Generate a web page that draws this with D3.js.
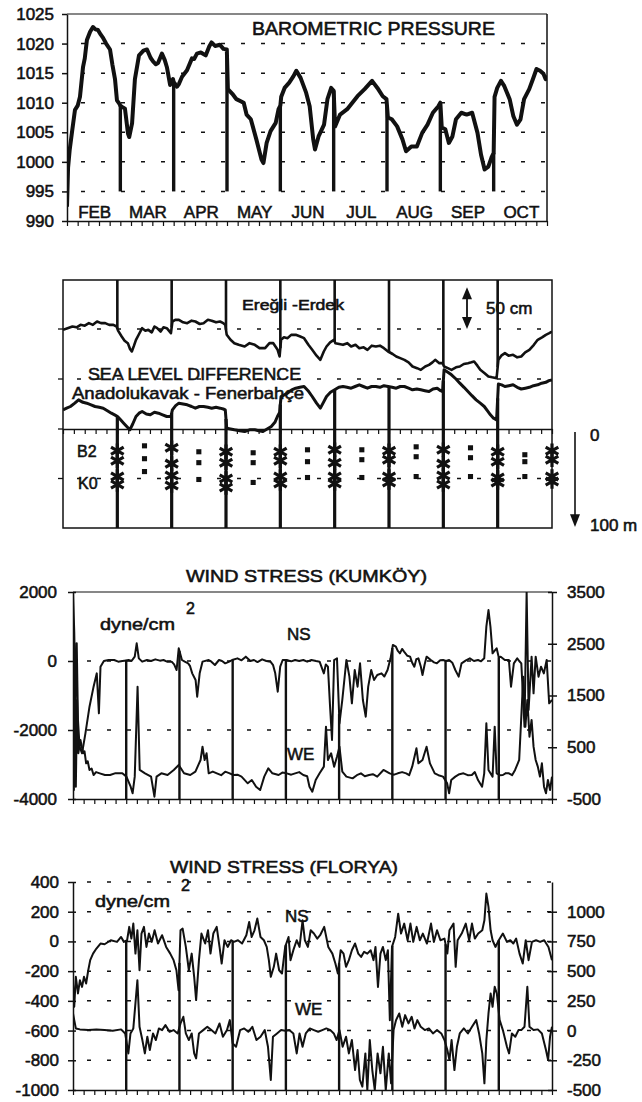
<!DOCTYPE html>
<html>
<head>
<meta charset="utf-8">
<script src="https://cdn.jsdelivr.net/npm/d3@7"></script>
<style>
  body { margin: 0; background: #fff; }
  svg text { font-family: "Liberation Sans", Arial, sans-serif; fill: #111; stroke: #111; stroke-width: 0.55px; }
</style>
</head>
<body>
<svg id="fig" width="642" height="1102"></svg>
<script>
// ---- data (days counted from 1 Feb, 30 per month) ----
const months = ['FEB', 'MAR', 'APR', 'MAY', 'JUN', 'JUL', 'AUG', 'SEP', 'OCT'];
const monthEnds = [30, 60, 90, 120, 150, 180, 210, 240];
const minorTickDays = d3.range(0, 271, 6);

const pressureTicks = [990, 995, 1000, 1005, 1010, 1015, 1020, 1025];
const pressureGrid = [995, 1000, 1005, 1010, 1015, 1020];
const pressure = [
  [0, 992.4], [0.6, 999], [1.5, 1002], [2.8, 1005], [4.5, 1008.8], [6, 1009.5], [7.3, 1011], [9, 1016],
  [10, 1017.5], [11.2, 1020.6], [13, 1022], [14.6, 1022.8], [16, 1022.4], [17.4, 1022.3], [19, 1021.5],
  [20.2, 1021], [22, 1020], [24.2, 1019], [25.5, 1016.5], [27, 1014], [28.1, 1010.4], [29.5, 1009.8],
  [30, 1009.5], [31, 1009.3], [32.6, 1009], [34.3, 1004.8], [35, 1004.2], [36.6, 1006.5], [38.2, 1014],
  [40.5, 1018], [43, 1018.8], [45, 1019], [47, 1017.6], [48.4, 1017], [50, 1016.5], [51.2, 1016.7],
  [53.4, 1018.3], [55, 1017.2], [56.2, 1016], [58, 1013], [59.6, 1014], [60, 1013.5], [61.9, 1012.7],
  [63, 1013.2], [64.7, 1014.4], [67.5, 1015.5], [70.3, 1017.5], [71.5, 1017.4], [73.1, 1018.3],
  [75.3, 1018.5], [78, 1018], [80, 1019.5], [81.3, 1020.2], [83.3, 1019.6], [86, 1019.8], [88, 1019.1],
  [89.9, 1019], [90.5, 1012.3], [93, 1011.5], [95.3, 1010.6], [99.4, 1010], [101, 1008], [103.4, 1007.2],
  [106.5, 1003.8], [109.4, 1000.4], [110.5, 999.8], [112.3, 1003.2], [114.5, 1005.2], [117.4, 1006.6],
  [119, 1008.9], [120, 1009.5], [120.5, 1011], [122.4, 1012.5], [125, 1013.4], [127.4, 1014.5],
  [129, 1015.4], [131.4, 1014.2], [134.5, 1011.7], [136.5, 1009.4], [138.5, 1003.8], [139.5, 1002.1],
  [141.5, 1004.3], [144.6, 1006.3], [146.5, 1010.6], [148.6, 1012.5], [150, 1012], [150.8, 1006],
  [153.6, 1008], [157.6, 1008.9], [160.5, 1010], [163.4, 1011.1], [167.4, 1012.3], [171.6, 1013.7],
  [174.6, 1012.5], [177.6, 1011.1], [179.7, 1010.6], [180.5, 1007.5], [182.7, 1007.2], [185.7, 1006],
  [188.7, 1003.8], [190.7, 1001.8], [193.7, 1002.6], [196.8, 1002.6], [199.8, 1004.9], [202.8, 1006.3],
  [205.8, 1008.3], [208.9, 1009.4], [210, 1010], [210.8, 1005.8], [212.8, 1005.5], [214.8, 1003.2],
  [216.8, 1004.3], [218.8, 1007.2], [221.8, 1008.3], [224.8, 1008], [227.9, 1008.3], [230.9, 1004.9],
  [232.9, 1001.2], [234.9, 998.7], [237, 999.2], [239, 1000.9], [240, 1001.5], [240.5, 1011],
  [242, 1012.5], [244.1, 1013.7], [246, 1012.8], [249, 1010.6], [251.1, 1007.7], [253.1, 1006.3],
  [255.1, 1007.2], [257.1, 1010.6], [260, 1012.3], [262.1, 1014], [264.1, 1015.7], [266.1, 1015.4],
  [268, 1014.9], [269.2, 1014], [270, 1014.6]
];

// sea level difference, cm (curves offset for display)
const seaGrid = [60, 120];
const seaErdek = [
  [0, 119], [2.5, 121], [5.2, 123], [7.5, 122], [9.7, 125], [12, 124], [14.3, 127], [16.5, 125], [18.8, 129],
  [21, 127], [23.3, 127], [25.5, 125], [27.8, 125], [29.6, 123], [30.4, 118], [32.4, 111], [34, 106],
  [35.8, 103], [37, 96], [38, 93], [39.2, 100], [40.3, 107], [42, 114], [43.7, 121], [45.5, 118], [47.1, 119],
  [49, 116], [50.5, 123], [52, 121], [53.9, 117], [55.5, 122], [57.3, 121], [59.6, 115], [60.4, 129],
  [62, 131], [64, 131], [66.3, 128], [68.6, 127], [71, 130], [73.1, 129], [75.5, 126], [77.6, 127], [80, 131],
  [82.1, 130], [84.5, 128], [86.7, 129], [88.5, 127], [89.6, 125], [90.4, 113], [92.5, 107], [94.6, 103],
  [97, 101], [100.3, 99], [103, 103], [105.9, 101], [108.5, 97], [111.6, 97], [114, 103], [116.1, 103],
  [118.5, 95], [119.6, 87], [120.4, 107], [122, 110], [124, 109], [126, 113], [128.5, 113], [131, 111],
  [133.1, 109], [135.5, 101], [137.6, 95], [140, 88], [142.1, 83], [144, 93], [145.5, 99], [147.5, 104],
  [149.6, 107], [150.4, 103], [152.5, 102], [154.6, 101], [157, 103], [159.1, 99], [161.5, 101], [163.6, 97],
  [166, 98], [168.1, 95], [170.5, 100], [172.7, 99], [175, 100], [177.2, 97], [179.5, 93], [182, 90],
  [184, 87], [186.2, 85], [188.5, 83], [190.8, 80], [193, 75], [195.5, 73], [197.6, 71], [200, 75],
  [202.1, 77], [204, 80], [205.5, 83], [207.8, 79], [209.6, 79], [210.4, 75], [212.5, 73], [214.5, 71],
  [217, 74], [219.1, 75], [221.3, 78], [223.6, 79], [225.5, 80], [227, 81], [228.8, 76], [230.4, 71],
  [232.8, 67], [234.9, 63], [237, 62], [239.4, 61], [240.4, 83], [242, 88], [244, 91], [246, 88],
  [248.5, 89], [250.8, 86], [253, 87], [255.2, 92], [257.5, 95], [260, 101], [262.1, 107], [264.5, 110],
  [266.6, 113], [268.5, 115], [270, 117]
];
const seaAnadolu = [
  [0, 23], [2, 25], [4.1, 27], [6.5, 31], [8.6, 35], [11, 32], [13.1, 31], [15.5, 29], [17.7, 27], [20, 26],
  [22.2, 25], [24.5, 22], [26.7, 19], [28.5, 17], [30.1, 15], [31.8, 11], [33.5, 7], [35.2, 3], [36.9, -1],
  [38.5, 6], [40.3, 15], [42, 19], [43.7, 21], [46, 18], [48.2, 17], [50.5, 20], [52.7, 19], [55, 17],
  [57.3, 15], [59.6, 15], [60.4, 23], [62.2, 28], [64, 31], [66.3, 30], [68.6, 29], [71, 27], [73.1, 25],
  [75.3, 27], [77.6, 27], [80, 26], [82.1, 25], [84.5, 26], [86.7, 25], [88.5, 24], [89.6, 23], [90.4, 1],
  [92.5, 0], [94.6, -1], [97.5, -2], [100.3, -3], [103, -1], [105.9, -1], [108, -2], [110.4, -3], [112.7, 0],
  [115, 3], [117, 8], [118.4, 15], [119.6, 20], [120.4, 39], [122.2, 41], [124, 43], [126.3, 47],
  [128.5, 49], [130.8, 50], [133.1, 51], [135.3, 46], [137.6, 39], [140, 31], [142.1, 25], [143.8, 32],
  [145.5, 39], [147.7, 44], [150, 47], [152.3, 50], [154.6, 51], [156.8, 50], [159.1, 49], [161.3, 51],
  [163.6, 53], [165.8, 51], [168.1, 49], [170.4, 51], [172.7, 51], [175, 50], [177.2, 52], [179.5, 51],
  [181.7, 50], [184, 49], [186.2, 51], [188.5, 51], [190.8, 49], [193, 47], [195.3, 48], [197.6, 47],
  [199.8, 46], [202.1, 45], [204.3, 48], [206.6, 49], [208.5, 46], [209.6, 45], [210.4, 71], [212.5, 68],
  [214.5, 65], [217, 60], [219.1, 55], [221.4, 50], [223.6, 45], [225.8, 40], [228.1, 35], [230.4, 31],
  [232.6, 27], [234.3, 22], [236, 17], [237.7, 13], [239.4, 11], [240.4, 54], [242.2, 53], [244, 51],
  [246.2, 52], [248.5, 53], [250.8, 50], [253, 48], [255.3, 49], [257.5, 50], [259.8, 52], [262.1, 53],
  [264.3, 55], [266.6, 56], [268.3, 58], [270, 59]
];

// interface depths (m) at month ends (stars) and mid-month (squares)
const starDays = [30, 60, 90, 120, 150, 180, 210, 240, 270];
const b2StarUpper = [22, 19, 23, 23, 21, 22, 21, 23, 22];
const b2StarLower = [32, 35, 34, 32, 34, 31, 35, 33, 31];
const k0StarUpper = [48, 47, 50, 48, 48, 48, 47, 49, 48];
const k0StarLower = [56, 57, 59, 55, 55, 54, 56, 54, 53];
const midDays = [45, 75, 105, 135, 165, 195, 225, 255];
const b2MidUpper = [17, 23, 24, 21, 21, 18, 19, 26];
const b2MidLower = [30, 34, 34, 33, 31, 28, 29, 33];
const k0Mid = [43, 51, 54, 49, 49, 48, 48, 48];

// wind stress Kumkoy, dyne/cm2 : NS on left axis, WE on right axis
const kumkoyLeftTicks = [2000, 0, -2000, -4000];
const kumkoyRightTicks = [3500, 2500, 1500, 500, -500];
const kumkoyGrid = [0, -2000];
const kumkoyNS = [
  [0, 2000], [0.7, 850], [1.4, -1130], [2.1, 512], [2.8, -1710], [3.7, -2483], [5.1, -2676], [7, -2097],
  [9.3, -1324], [11.6, -744], [13.4, -358], [14.6, -1517], [15.5, -164], [17.4, 0], [20, 29], [23.2, 29],
  [25.5, -19], [27.8, 0], [29, 10], [31.3, 29], [33, 0], [34.8, 126], [35.9, 512], [37.1, 77], [39, -19],
  [41.7, 29], [44, 0], [46.4, 48], [49, 10], [51, 29], [53, -19], [55.6, -19], [57, -100], [58.4, -261],
  [59.6, 367], [61.4, 29], [63, -19], [64.9, -68], [66, -150], [67.2, -358], [69.1, -551], [70, -1034],
  [71.4, -358], [73, -19], [76.5, 29], [78, -19], [80, -116], [82.3, 29], [84, 0], [85.8, -68], [88.1, -19],
  [89.7, 29], [92.7, 77], [95, 20], [97.4, 126], [100, 0], [102, 29], [104, -30], [106.6, 48], [109, 0],
  [111.3, -19], [112.8, -120], [114, -358], [115.4, -889], [116.8, -164], [118.2, 29], [120.5, 29],
  [123, -10], [125.2, 29], [127.5, 0], [129.8, 29], [132, -20], [134.4, 29], [137, 0], [139, -19],
  [141.4, -358], [142.5, -100], [143.7, -164], [144.9, -1324], [146, -2290], [147.2, 29], [148.8, 77],
  [150.2, -1807], [151.8, -1130], [154.1, 29], [155.8, -454], [157.2, -1227], [158.8, -261], [160.4, -744],
  [161.8, -68], [163.4, -1130], [165, -1614], [166.4, -744], [168.1, -261], [169.7, -551], [171.5, -406],
  [173.9, -358], [175.5, -450], [177.3, -261], [179, 77], [180.3, 464], [182, 415], [183, 300], [184.3, 222],
  [185.5, 350], [186.6, 270], [188.5, 150], [190, 126], [191.2, -50], [192.4, -164], [193.5, 50], [194.7, 77],
  [196, -150], [197, -406], [198.2, -100], [199.3, 126], [201.7, 29], [203.5, -40], [205.1, -68], [207, 20],
  [208.6, 29], [210.3, 0], [212, 29], [213.8, -50], [215.5, -261], [217.4, -454], [219, -68], [221.5, 20],
  [223.7, 77], [226, 0], [228.3, 29], [230, -10], [231.8, 77], [233, 995], [234.2, 1478], [235.3, 995],
  [236.5, 222], [237.7, 300], [238.8, 367], [240, 100], [241.1, 126], [243.4, 29], [245.7, 29], [246.9, -744],
  [248.5, -68], [250.4, 77], [251.5, 0], [252.7, -68], [254.5, -1903], [255.7, 2000], [256.8, -1420],
  [258.5, 126], [259.6, -937], [260.8, 126], [262.4, -454], [263.8, -164], [265.4, -358], [267, 29],
  [268.4, -1227], [270, -1130]
];
const kumkoyWE = [
  [0, 2186], [0.5, -326], [0.9, 2508], [1.6, -262], [2.3, 1413], [3, 383], [4.2, 640], [5, 500], [5.8, 383],
  [6.5, 420], [7.4, 189], [8.3, 230], [9.3, 61], [10.5, 90], [11.6, -36], [13, 20], [15.1, -4], [18, -36],
  [20.9, -36], [24, 0], [27.8, -4], [30.1, -68], [32.5, -262], [33.6, -390], [34.8, -68], [36.4, 1671],
  [37.6, 61], [40.6, -4], [44, -68], [45.9, -455], [47.1, -68], [49.8, -4], [53.3, -36], [56.8, 61],
  [59.6, 157], [62.6, -4], [66.1, -36], [69, 30], [71.9, 254], [73, 511], [74.2, 254], [75.3, 383],
  [76.5, -4], [78.8, 30], [81.1, -4], [83.5, -40], [85.8, 28], [88, 0], [90.4, -36], [92.7, -30], [95, -68],
  [98.5, -197], [100.8, -133], [103.2, -262], [105.5, -326], [107.8, -68], [110.1, 93], [112.4, -4],
  [115.9, -36], [118, 10], [120.5, -4], [123, -30], [125.2, -4], [127.5, 20], [129.8, -36], [132, -60],
  [133.3, -262], [134.9, -358], [136.8, -133], [139, -4], [141.4, 125], [142.6, 898], [143.7, 254],
  [145.5, 383], [147.2, 125], [148.8, 318], [150.2, 511], [151.8, 28], [154.1, -68], [157.6, -101],
  [160, -40], [162.3, -4], [164.5, -60], [166.9, -36], [169, -20], [171.5, -68], [175, 61], [178.5, -4],
  [181, -30], [183.1, -4], [185.5, 20], [187.8, -4], [189.5, -40], [191.2, 125], [193.6, 479], [194.7, 189],
  [197, 254], [199.3, 511], [201.2, 189], [203.9, -4], [206, -40], [208.6, -68], [210.9, -197], [212, -390],
  [213.2, -133], [215.5, -68], [217.8, -20], [220.1, -4], [222.5, -40], [224.8, -36], [226.5, 20],
  [228.3, -133], [230.6, -262], [231.8, -4], [233, 962], [234.2, 61], [236.5, -68], [237.7, 898],
  [238.8, -4], [240.5, -40], [242.3, -36], [244, 0], [245.7, -4], [247.5, -40], [249.2, 61], [251.5, 254],
  [252.7, 1091], [253.8, 1864], [255, 898], [256.1, 1413], [257.3, 705], [258.5, 1027], [259.6, 511],
  [260.8, 254], [262, 125], [263.2, -68], [264.3, 189], [265.5, -262], [266.6, -390], [267.7, -133],
  [268.9, -326], [270, -68]
];

// wind stress Florya
const floryaLeftTicks = [400, 200, 0, -200, -400, -600, -800, -1000];
const floryaRightTicks = [1000, 750, 500, 250, 0, -250, -500];
const floryaGrid = [400, 200, 0, -200, -400, -600, -800];
const floryaNS = [
  [0, -283], [0.7, -440], [1.6, -238], [2.8, -350], [3.9, -261], [5.1, -306], [6.2, -238], [7.4, -283],
  [8.6, -194], [9.7, -126], [11.3, -82], [13.2, -48], [15.5, -14], [17.8, -19], [21.3, 8], [24.8, -3],
  [27.1, 30], [28.7, -3], [30.5, 8], [31.7, 98], [32.9, 19], [34, 120], [35.2, -82], [36.3, 75],
  [37.5, -194], [38.6, 53], [40, 98], [41.4, -37], [42.8, 53], [44.4, -3], [46, 75], [47.9, -14], [50.2, 42],
  [52.5, -37], [54.8, -82], [56.7, -126], [58.3, -194], [59.5, -328], [60.6, 75], [61.8, 86], [63.6, -37],
  [65.3, -194], [66.9, -82], [68.3, -238], [69.4, -395], [71, -126], [72.4, 53], [74.5, -14], [76.1, 75],
  [77.5, -82], [79.1, 53], [81, 98], [82.6, -37], [83.8, -149], [85.4, 8], [87.2, -37], [89.1, 8],
  [90.7, -3], [93, 8], [95.3, -14], [97.7, 42], [99.3, 131], [100.7, 30], [102.3, 75], [103.9, 154],
  [105.7, 30], [107.6, 8], [109.2, -37], [110.4, -126], [111.5, -238], [113.2, -171], [114.5, -82],
  [116.2, -194], [117.8, -216], [119.6, -37], [121.5, 30], [122.6, -126], [124.2, -59], [126.1, 8],
  [127.7, -37], [129.4, 142], [130.7, 8], [132.4, -37], [134, 75], [135.8, 53], [137.7, 19], [139.3, 42],
  [141.6, 98], [143.9, -37], [146.2, -82], [147.9, -149], [149.3, -216], [150.9, -59], [152.5, -82],
  [153.9, -171], [155.5, -126], [157.2, -59], [159, -14], [160.8, -82], [162.4, -104], [164.1, -70],
  [165.9, -82], [167.8, -59], [169.4, -126], [170.5, -37], [171.9, -306], [173.3, -82], [174.7, -37],
  [176.3, -126], [177.5, -59], [178.6, -530], [179.8, -37], [181.6, 30], [183.3, 187], [184.9, 53],
  [186.7, 120], [188.6, 8], [190.2, 120], [191.8, -3], [193.7, 98], [195.5, 8], [197.2, 53], [199.5, -14],
  [201.8, 120], [203.4, -3], [205.2, 75], [207.1, 8], [209.4, 19], [211, -82], [212.2, 75], [214.5, 120],
  [215.7, -171], [216.8, 8], [219.1, 53], [221.4, 120], [223.3, 8], [224.9, 120], [226.5, 19], [228.4, 53],
  [230.7, 75], [231.9, 142], [233, 322], [234.2, 232], [235.4, 75], [236.5, 8], [238.1, -37], [240, 8],
  [242.3, 53], [244.6, -3], [246.5, 8], [248.2, -14], [249.8, 19], [251.7, -82], [253.5, -149], [255.2, 8],
  [256.8, -126], [258.7, -3], [261, 8], [263.3, -3], [265.6, 8], [268, -37], [270, -126]
];
const floryaWE = [
  [0, 144], [0.7, 88], [1.6, 18], [3.9, 10], [8.6, 4], [13.2, 10], [17.8, 4], [22.4, -2], [27.1, 10],
  [29.4, -24], [31.2, -192], [32.4, -24], [34, 18], [36.3, 424], [37.5, 32], [39.1, -80], [40.5, -192],
  [41.9, -52], [43.3, -164], [45.1, -24], [46.7, -80], [48.4, 18], [50.2, 4], [52.1, 46], [54.4, -10],
  [56.7, 4], [59, -24], [60.6, 60], [62.2, 116], [63.6, -24], [65.3, -80], [66.9, -24], [68.3, -192],
  [69.4, -234], [71, -24], [73.4, 4], [75.7, 32], [78, 4], [80.3, -24], [82.6, 60], [84.5, -52], [86.8, 4],
  [88.4, 88], [90, -108], [91.9, -136], [94.2, 4], [96.5, 18], [98.8, -10], [101.1, 32], [103.4, -80],
  [105.7, -52], [108.1, 4], [109.9, -136], [111.5, -416], [112.7, -52], [115, -24], [117.3, 4], [119.6, -2],
  [121.9, 4], [124.2, -24], [126.1, -192], [127.7, -24], [129.4, -136], [131.2, -24], [133.5, 18],
  [135.8, 4], [138.2, -10], [140.5, 4], [142.8, 18], [145.1, 4], [147, -24], [148.6, -80], [150.2, 4],
  [152, -136], [153.9, -52], [155.5, -192], [157.2, -80], [159, -332], [160.4, -164], [161.7, -416],
  [163.1, -472], [164.8, -192], [165.9, -500], [167.3, -80], [168.7, -332], [170.1, -500], [171.7, -192],
  [173.3, -360], [174.7, -136], [176.3, -500], [178, -192], [179.3, -444], [180.7, 4], [182.1, 88],
  [183.9, 144], [185.6, 32], [187.2, 130], [189.1, 60], [190.9, 116], [192.5, 18], [194.1, 88], [196, 32],
  [198.3, 4], [200.6, 18], [202.9, -24], [205.2, 4], [207.6, -24], [209.4, -80], [211, -164], [212.2, -248],
  [213.4, -80], [215, -332], [216.4, -136], [218, -24], [220.3, 18], [222.6, -24], [224.9, 32], [227.3, 88],
  [228.9, -24], [230.7, -192], [231.9, -444], [233, -80], [234.2, 144], [235.4, 312], [236.5, 200],
  [237.7, 368], [238.9, 312], [240.5, 88], [242.3, 4], [244.6, -136], [245.8, -192], [247.4, -24],
  [249.3, -52], [251.1, 4], [252.7, 4], [254.5, 32], [256.1, 368], [257.3, 32], [259.6, 4], [262, 10],
  [264.3, -24], [266.6, -164], [267.8, -248], [268.9, -52], [270, 32]
];

// ---- drawing ----
const FONT = '"Liberation Sans", Arial, sans-serif';
const INK = '#111';
const plainNumber = d => String(d); // keeps ASCII hyphen, no thousands comma
const svg = d3.select('#fig');
const defs = svg.append('defs');
let clipCount = 0;

function addClip(x0, y0, x1, y1) {
  const id = 'clip' + (clipCount++);
  defs.append('clipPath').attr('id', id).append('rect')
    .attr('x', x0).attr('y', y0).attr('width', x1 - x0).attr('height', y1 - y0);
  return 'url(#' + id + ')';
}

function valueAt(series, day) {
  const i = d3.bisector(d => d[0]).left(series, day);
  if (i <= 0) return series[0][1];
  if (i >= series.length) return series[series.length - 1][1];
  const a = series[i - 1], b = series[i];
  return a[1] + (b[1] - a[1]) * (day - a[0]) / (b[0] - a[0]);
}

function styleAxis(g, size) {
  g.attr('font-family', FONT).attr('font-size', size);
  g.selectAll('path, line').attr('stroke', INK).attr('stroke-width', 1.5);
  g.selectAll('text').attr('fill', INK);
}

function dashedLine(g, x0, x1, y) {
  g.append('line')
    .attr('x1', x0 + 14).attr('x2', x1).attr('y1', y).attr('y2', y)
    .attr('stroke', INK).attr('stroke-width', 1.5).attr('stroke-dasharray', '4 16');
}

function minorTicks(g, x, y) {
  const axis = d3.axisBottom(x).tickValues(minorTickDays).tickFormat('').tickSize(5).tickSizeOuter(0);
  const ag = g.append('g').attr('transform', `translate(0,${y})`).call(axis);
  styleAxis(ag, 10);
  ag.selectAll('.tick line').attr('stroke-width', 1.2);
  return ag;
}

function drawSeries(g, series, x, y, width, clip) {
  g.append('path')
    .datum(series)
    .attr('clip-path', clip)
    .attr('fill', 'none')
    .attr('stroke', INK)
    .attr('stroke-width', width)
    .attr('stroke-linejoin', 'round')
    .attr('d', d3.line().x(d => x(d[0])).y(d => y(d[1])));
}

function label(g, text, x, y, size, anchor, length) {
  const t = g.append('text').attr('x', x).attr('y', y).attr('font-size', size)
    .attr('text-anchor', anchor || 'start').text(text);
  if (length) t.attr('textLength', length).attr('lengthAdjust', 'spacingAndGlyphs');
  return t;
}

// panel 1: barometric pressure
(function () {
  const x0 = 67, x1 = 547, top = 14, bottom = 221;
  const g = svg.append('g');
  const x = d3.scaleLinear().domain([0, 270]).range([x0, x1]);
  const y = d3.scaleLinear().domain([990, 1025]).range([bottom, top]);

  pressureGrid.forEach(v => dashedLine(g, x0, x1, y(v)));
  g.append('line').attr('x1', x0).attr('x2', x1).attr('y1', top).attr('y2', top)
    .attr('stroke', INK).attr('stroke-width', 1.2);
  g.append('line').attr('x1', x1).attr('x2', x1).attr('y1', top).attr('y2', bottom)
    .attr('stroke', INK).attr('stroke-width', 1.5);

  const ya = g.append('g').attr('transform', `translate(${x0},0)`)
    .call(d3.axisLeft(y).tickValues(pressureTicks).tickFormat(plainNumber)
      .tickSize(5).tickPadding(8).tickSizeOuter(0));
  styleAxis(ya, 17);
  minorTicks(g, x, bottom);

  months.forEach((m, i) => label(g, m, x(i * 30 + 15) + 1, 218, 17, 'middle'));
  label(g, 'BAROMETRIC PRESSURE', 252, 35, 18, 'start', 243);

  const clip = addClip(x0, top, x1, bottom);
  g.selectAll('.drop').data(monthEnds).join('line')
    .attr('x1', d => x(d)).attr('x2', d => x(d))
    .attr('y1', d => y(valueAt(pressure, d))).attr('y2', y(995))
    .attr('stroke', INK).attr('stroke-width', 3.4);
  drawSeries(g, pressure, x, y, 4, clip);
})();

// panel 2: sea level difference and interface depths
(function () {
  const x0 = 63, x1 = 552, top = 280, sep = 429, bottom = 528;
  const g = svg.append('g');
  const x = d3.scaleLinear().domain([0, 270]).range([x0, x1]);
  const sea = d3.scaleLinear().domain([0, 178.8]).range([sep, top]);
  const depth = d3.scaleLinear().domain([0, 100]).range([sep, bottom]);

  seaGrid.forEach(v => dashedLine(g, x0, x1, sea(v)));
  dashedLine(g, x0, x1, depth(50));
  g.append('rect').attr('x', x0).attr('y', top).attr('width', x1 - x0).attr('height', bottom - top)
    .attr('fill', 'none').attr('stroke', INK).attr('stroke-width', 1.5);
  [sea(120), sea(60), sep, depth(50)].forEach(yy => g.append('line')
    .attr('x1', x0 - 5).attr('x2', x0).attr('y1', yy).attr('y2', yy)
    .attr('stroke', INK).attr('stroke-width', 1.3));
  minorTicks(g, x, sep);

  label(g, 'Ereğli -Erdek', 242, 310, 15, 'start', 102);
  label(g, 'SEA LEVEL DIFFERENCE', 88, 380, 17, 'start', 213);
  label(g, 'Anadolukavak - Fenerbahçe', 72, 399, 17, 'start', 232);
  label(g, 'B2', 77, 457, 16);
  label(g, 'K0', 78, 489, 16);

  // 50 cm scale arrow
  const ax = 467, ya0 = sea(170), ya1 = sea(120);
  g.append('line').attr('x1', ax).attr('x2', ax).attr('y1', ya0 + 8).attr('y2', ya1 - 8)
    .attr('stroke', INK).attr('stroke-width', 1.8);
  g.append('path').attr('d', `M${ax},${ya0}L${ax - 5},${ya0 + 12}L${ax + 5},${ya0 + 12}Z`).attr('fill', INK);
  g.append('path').attr('d', `M${ax},${ya1}L${ax - 5},${ya1 - 12}L${ax + 5},${ya1 - 12}Z`).attr('fill', INK);
  label(g, '50 cm', 486, 314, 17);

  // depth arrow on the right
  const dx = 575;
  g.append('line').attr('x1', dx).attr('x2', dx).attr('y1', depth(3)).attr('y2', depth(88))
    .attr('stroke', INK).attr('stroke-width', 1.6);
  g.append('path').attr('d', `M${dx},${depth(99)}L${dx - 5},${depth(86)}L${dx + 5},${depth(86)}Z`).attr('fill', INK);
  label(g, '0', 590, 441, 17);
  label(g, '100 m', 590, 531, 17);

  // month-end lines
  g.selectAll('.upline').data(monthEnds).join('line')
    .attr('x1', d => x(d)).attr('x2', d => x(d))
    .attr('y1', top).attr('y2', d => sea(valueAt(seaErdek, d)))
    .attr('stroke', INK).attr('stroke-width', 2.6);
  g.selectAll('.downline').data(monthEnds).join('line')
    .attr('x1', d => x(d)).attr('x2', d => x(d))
    .attr('y1', d => sea(valueAt(seaAnadolu, d))).attr('y2', bottom)
    .attr('stroke', INK).attr('stroke-width', 3.2);

  const clip = addClip(x0, top, x1, bottom);
  drawSeries(g, seaErdek, x, sea, 2.6, clip);
  drawSeries(g, seaAnadolu, x, sea, 3, clip);

  const star = d3.symbol().type(d3.symbolAsterisk || d3.symbolCross).size(150);
  const square = d3.symbol().type(d3.symbolSquare).size(26);
  [b2StarUpper, b2StarLower, k0StarUpper, k0StarLower].forEach(arr => {
    g.append('g').selectAll('path').data(arr).join('path')
      .attr('transform', (d, i) => `translate(${x(starDays[i])},${depth(d)})`)
      .attr('d', star).attr('fill', INK).attr('stroke', INK).attr('stroke-width', 3.2);
  });
  [b2MidUpper, b2MidLower, k0Mid].forEach(arr => {
    g.append('g').selectAll('path').data(arr).join('path')
      .attr('transform', (d, i) => `translate(${x(midDays[i])},${depth(d)})`)
      .attr('d', square).attr('fill', INK);
  });
})();

// panels 3 and 4: wind stress
function windPanel(opt) {
  const { x0, x1, top, bottom } = opt;
  const g = svg.append('g');
  const x = d3.scaleLinear().domain([0, 270]).range([x0, x1]);
  const yL = d3.scaleLinear().domain(opt.leftDomain).range([bottom, top]);
  const yR = d3.scaleLinear().domain(opt.rightDomain).range([bottom, top]);

  opt.grid.forEach(v => dashedLine(g, x0, x1, yL(v)));
  if (opt.topBorder) {
    g.append('line').attr('x1', x0).attr('x2', x1).attr('y1', top).attr('y2', top)
      .attr('stroke', INK).attr('stroke-width', 1.1);
  }

  const la = g.append('g').attr('transform', `translate(${x0},0)`)
    .call(d3.axisLeft(yL).tickValues(opt.leftTicks).tickFormat(plainNumber)
      .tickSize(5).tickPadding(opt.leftPad).tickSizeOuter(0));
  styleAxis(la, 17);
  la.selectAll('.tick line').attr('x1', 3);
  const ra = g.append('g').attr('transform', `translate(${x1},0)`)
    .call(d3.axisRight(yR).tickValues(opt.rightTicks).tickFormat(plainNumber)
      .tickSize(5).tickPadding(10).tickSizeOuter(0));
  styleAxis(ra, 17);
  ra.selectAll('.tick line').attr('x1', -4);
  minorTicks(g, x, bottom);

  label(g, opt.title, opt.titleX, opt.titleY, 17, 'start', opt.titleLen);
  label(g, 'dyne/cm', opt.unitX, opt.unitY, 17, 'start', 75);
  label(g, '2', opt.unitX + 86, opt.unitY - 16, 16);
  label(g, 'NS', opt.nsX, opt.nsY, 17);
  label(g, 'WE', opt.weX, opt.weY, 17);

  g.selectAll('.drop').data(monthEnds).join('line')
    .attr('x1', d => x(d)).attr('x2', d => x(d))
    .attr('y1', d => yL(valueAt(opt.ns, d))).attr('y2', bottom)
    .attr('stroke', INK).attr('stroke-width', 2.4);

  const clip = addClip(x0, top, x1, bottom);
  drawSeries(g, opt.we, x, yR, 2, clip);
  drawSeries(g, opt.ns, x, yL, 2, clip);
}

windPanel({
  x0: 73, x1: 552, top: 592, bottom: 799,
  leftDomain: [-4000, 2000], rightDomain: [-500, 3500],
  leftTicks: kumkoyLeftTicks, rightTicks: kumkoyRightTicks, grid: kumkoyGrid, leftPad: 11,
  topBorder: true, ns: kumkoyNS, we: kumkoyWE,
  title: 'WIND STRESS (KUMKÖY)', titleX: 186, titleY: 582, titleLen: 241,
  unitX: 100, unitY: 630, nsX: 287, nsY: 640, weX: 287, weY: 760
});

windPanel({
  x0: 73, x1: 552, top: 882, bottom: 1090,
  leftDomain: [-1000, 400], rightDomain: [-500, 1250],
  leftTicks: floryaLeftTicks, rightTicks: floryaRightTicks, grid: floryaGrid, leftPad: 9,
  topBorder: false, ns: floryaNS, we: floryaWE,
  title: 'WIND STRESS (FLORYA)', titleX: 170, titleY: 873, titleLen: 228,
  unitX: 95, unitY: 907, nsX: 285, nsY: 922, weX: 295, weY: 1015
});
</script>
</body>
</html>
